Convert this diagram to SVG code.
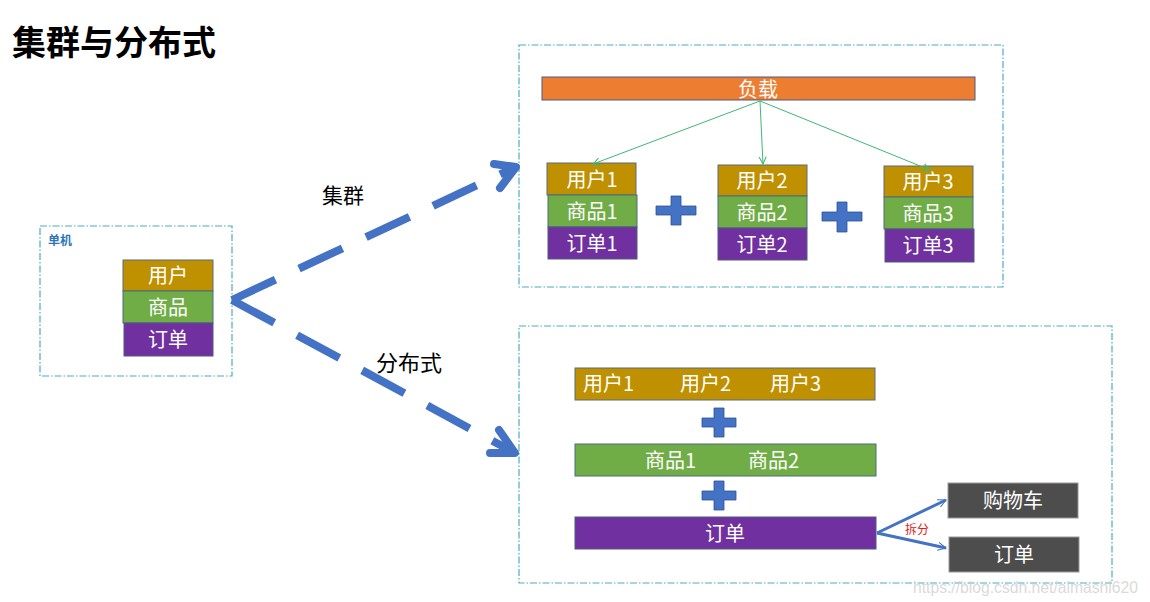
<svg xmlns="http://www.w3.org/2000/svg" width="1150" height="602" viewBox="0 0 1150 602">
<defs>
<style>
.frame{fill:none;stroke:#4BACC6;stroke-width:1.2;stroke-dasharray:7 2 1.5 2}
.gold{fill:#BF9000;stroke:#5B6B7F;stroke-width:1}
.green{fill:#70AD47;stroke:#4E6B7F;stroke-width:1}
.purple{fill:#7030A0;stroke:#4E5B7F;stroke-width:1}
.orange{fill:#ED7D31;stroke:#4E5B7F;stroke-width:1}
.grey{fill:#4D4D4D;stroke:#999;stroke-width:1}
.plus{fill:#4472C4;stroke:#2F528F;stroke-width:0.8}
.wt{font-family:"Noto Sans CJK SC","Liberation Sans",sans-serif;fill:#fff;font-size:20px}
.bk{font-family:"Noto Sans CJK SC","Liberation Sans",sans-serif;fill:#000}
.big{fill:none;stroke:#4472C4;stroke-width:8;stroke-dasharray:48 26}
.head{fill:none;stroke:#4472C4;stroke-width:8;stroke-linecap:round;stroke-linejoin:round}
.gl{fill:none;stroke:#3DB877;stroke-width:1}
.bl{fill:none;stroke:#4472C4;stroke-width:3}
</style>
<marker id="ga" viewBox="0 0 10 10" refX="9" refY="5" markerWidth="9" markerHeight="9" markerUnits="userSpaceOnUse" orient="auto">
<path d="M1,1 L9,5 L1,9" fill="none" stroke="#3DB877" stroke-width="1.2"/>
</marker>
<marker id="ba" viewBox="0 0 10 10" refX="9" refY="5" markerWidth="9" markerHeight="9" orient="auto" markerUnits="userSpaceOnUse">
<path d="M0,0.5 L9,5 L0,9.5" fill="none" stroke="#4472C4" stroke-width="1.1"/>
</marker>
</defs>
<rect width="1150" height="602" fill="#fff"/>

<text x="12" y="55" class="bk" font-size="34" font-weight="bold">集群与分布式</text>

<g id="single">
<rect class="frame" x="40" y="226" width="192" height="150"/>
<text x="48" y="245" font-family="Noto Sans CJK SC,sans-serif" font-size="12" font-weight="bold" fill="#2E75B6">单机</text>
<rect class="gold" x="123" y="260" width="90" height="31"/>
<text class="wt" x="168" y="283" text-anchor="middle">用户</text>
<rect class="green" x="123" y="291" width="90" height="32"/>
<text class="wt" x="168" y="315" text-anchor="middle">商品</text>
<rect class="purple" x="124" y="323" width="89" height="33"/>
<text class="wt" x="168" y="347" text-anchor="middle">订单</text>
</g>

<g id="cluster">
<rect class="frame" x="519" y="45" width="484" height="242"/>
<rect class="orange" x="542" y="77" width="433" height="23"/>
<text class="wt" x="758" y="97" text-anchor="middle">负载</text>

<g id="stack1">
<rect class="gold" x="547" y="163" width="89" height="32"/>
<text class="wt" x="592" y="187" text-anchor="middle">用户1</text>
<rect class="green" x="548" y="195" width="89" height="32"/>
<text class="wt" x="592" y="219" text-anchor="middle">商品1</text>
<rect class="purple" x="548" y="227" width="89" height="32"/>
<text class="wt" x="592" y="251" text-anchor="middle">订单1</text>
</g>
<g id="stack2">
<rect class="gold" x="718" y="165" width="89" height="31"/>
<text class="wt" x="762" y="188" text-anchor="middle">用户2</text>
<rect class="green" x="718" y="196" width="89" height="32"/>
<text class="wt" x="762" y="220" text-anchor="middle">商品2</text>
<rect class="purple" x="718" y="228" width="89" height="32"/>
<text class="wt" x="762" y="252" text-anchor="middle">订单2</text>
</g>
<g id="stack3">
<rect class="gold" x="884" y="166" width="89" height="31"/>
<text class="wt" x="928" y="189" text-anchor="middle">用户3</text>
<rect class="green" x="884" y="197" width="89" height="32"/>
<text class="wt" x="928" y="221" text-anchor="middle">商品3</text>
<rect class="purple" x="885" y="229" width="89" height="33"/>
<text class="wt" x="928" y="253" text-anchor="middle">订单3</text>
</g>
<path class="plus" d="M671,196 h10 v10 h15 v9 h-15 v10 h-10 v-10 h-15 v-9 h15 z"/>
<path class="plus" d="M837,202 h10 v10 h15 v9 h-15 v11 h-10 v-11 h-15 v-9 h15 z"/>
</g>

<g id="distributed">
<rect class="frame" x="519" y="326" width="593" height="257"/>
<rect class="gold" x="575" y="368" width="300" height="32"/>
<text class="wt" x="583" y="391">用户1</text>
<text class="wt" x="680" y="391">用户2</text>
<text class="wt" x="770" y="391">用户3</text>
<path class="plus" d="M714,408 h10 v10 h12 v9 h-12 v10 h-10 v-10 h-12 v-9 h12 z"/>
<rect class="green" x="575" y="444" width="301" height="32"/>
<text class="wt" x="645" y="468">商品1</text>
<text class="wt" x="748" y="468">商品2</text>
<path class="plus" d="M714,481 h10 v10 h12 v9 h-12 v10 h-10 v-10 h-12 v-9 h12 z"/>
<rect class="purple" x="575" y="517" width="301" height="32"/>
<text class="wt" x="725" y="541" text-anchor="middle">订单</text>
<g id="cart">
<rect class="grey" x="948" y="483" width="130" height="35"/>
<text class="wt" x="1013" y="508" text-anchor="middle">购物车</text>
</g>
<g id="order2">
<rect class="grey" x="949" y="537" width="130" height="35"/>
<text class="wt" x="1014" y="562" text-anchor="middle">订单</text>
</g>
<text x="905" y="534" font-family="Noto Sans CJK SC,sans-serif" font-size="12" fill="#E02020">拆分</text>
</g>

<g id="connectors">
<line class="gl" x1="760" y1="101" x2="593" y2="164" marker-end="url(#ga)"/>
<line class="gl" x1="760" y1="101" x2="763" y2="164" marker-end="url(#ga)"/>
<line class="gl" x1="760" y1="101" x2="930" y2="170" marker-end="url(#ga)"/>
<path class="big" d="M232,300 L516,167"/>
<path class="head" d="M494,164 L516,167 L500,188"/>
<path class="big" d="M232,300 L515,453"/>
<path class="head" d="M499,430 L515,453 L490,453"/>
<path class="bl" d="M877,533 L946,500" marker-end="url(#ba)"/>
<path class="bl" d="M877,533 L946,548" marker-end="url(#ba)"/>
</g>

<text x="322" y="203" class="bk" font-size="21">集群</text>
<text x="376" y="371" class="bk" font-size="22">分布式</text>

<text x="913" y="593" font-family="Liberation Sans,sans-serif" font-size="16" textLength="225" lengthAdjust="spacingAndGlyphs" fill="#d0d0d0" fill-opacity="0.8">https://blog.csdn.net/aimashi620</text>
</svg>
